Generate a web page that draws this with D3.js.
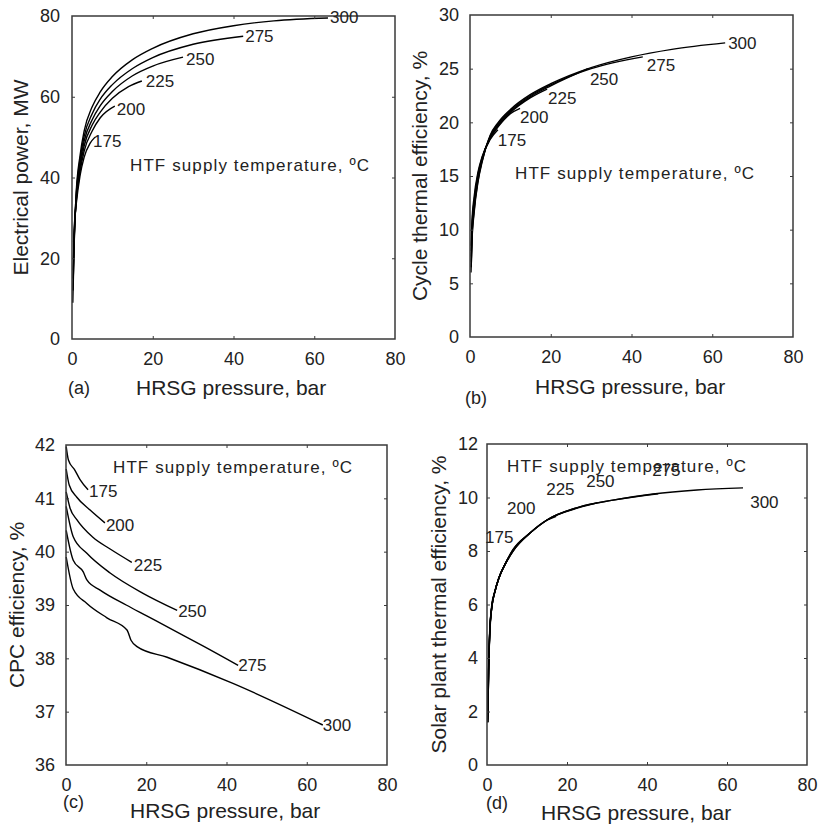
<!DOCTYPE html>
<html lang="en">
<head>
<meta charset="UTF-8">
<title>HRSG pressure</title>
<style>
body{margin:0;background:#fff;}
svg text{font-family:"Liberation Sans",Arial,sans-serif;fill:#222;}
</style>
</head>
<body>
<script src="https://cdn.jsdelivr.net/npm/d3@7"></script>
<script>
// HTF supply temperatures, degC
var temps = [175, 200, 225, 250, 275, 300];
var pressureTicks = [0, 20, 40, 60, 80];
var powerTicks = [0, 20, 40, 60, 80];
var cycleTicks = [0, 5, 10, 15, 20, 25, 30];
var cpcTicks = [36, 37, 38, 39, 40, 41, 42];
var solarTicks = [0, 2, 4, 6, 8, 10, 12];

// [HRSG pressure (bar), value] for each temperature
var electricalPower = [
  [[0.4,24],[0.7,30],[1,33],[2,40.5],[3,45],[4.5,48.5],[5.7,50]],
  [[0.35,20],[0.7,29],[1,33.5],[2,41.5],[3,46.5],[5,51.5],[7,54.8],[10.6,57.7]],
  [[0.3,17],[0.6,27],[1,34],[2,42.5],[3,47.8],[5,53],[7,56.2],[10,59.6],[14,62.5],[17.3,63.9]],
  [[0.3,15],[0.6,26],[1,34.5],[2,43.5],[3,49],[5,54.3],[7,57.8],[10,61.3],[15,65.2],[20,67.6],[27.5,69.8]],
  [[0.25,12],[0.5,24],[1,35],[2,44.5],[3,50.2],[5,55.8],[7,59.4],[10,63],[15,67],[20,69.7],[30,73],[42.4,75]],
  [[0.2,9],[0.5,22],[1,35.5],[2,45.5],[3,51.5],[5,57.5],[7,61.2],[10,65],[15,69.2],[20,72],[30,75.6],[40,77.6],[50,78.8],[63.4,79.5]]
];

var cycleEfficiency = [
  [[0.3,8.5],[0.5,10.8],[1,13],[2,15.4],[3,16.8],[5,18.4],[6.9,19.3]],
  [[0.3,8],[0.5,10.4],[1,12.6],[2,15.2],[3,16.7],[5,18.5],[7,19.6],[10,20.8],[12.4,21.3]],
  [[0.3,7.5],[0.5,10],[1,12.3],[2,15],[3,16.6],[5,18.6],[7,19.7],[10,20.9],[15,22.3],[19.1,23.1]],
  [[0.3,7],[0.5,9.5],[1,12],[2,14.8],[3,16.5],[5,18.7],[7,19.8],[10,21],[15,22.4],[20,23.4],[29.2,25]],
  [[0.3,6.5],[0.5,9.2],[1,11.7],[2,14.6],[3,16.4],[5,18.7],[7,19.9],[10,21.1],[15,22.5],[20,23.5],[30,25],[42.8,26.1]],
  [[0.25,6],[0.5,9],[1,11.5],[2,14.5],[3,16.3],[5,18.8],[7,20],[10,21.2],[15,22.6],[20,23.6],[30,25.1],[40,26.1],[50,26.8],[63.2,27.4]]
];

var cpcEfficiency = [
  [[0.05,41.97],[0.6,41.72],[2.2,41.53],[3.5,41.35],[5.5,41.16]],
  [[0.05,41.55],[0.8,41.25],[2.7,41.02],[6,40.78],[9.7,40.54]],
  [[0.05,41.12],[1,40.82],[2.7,40.6],[6.7,40.27],[11,40.05],[16.4,39.8]],
  [[0.05,40.85],[1.8,40.28],[5.2,39.97],[11,39.6],[19.2,39.22],[27.7,38.9]],
  [[0.05,40.4],[1.8,39.84],[4.3,39.62],[5.2,39.47],[8.5,39.28],[15,39.0],[20,38.8],[27,38.52],[34,38.24],[42.9,37.87]],
  [[0.05,39.9],[1.8,39.3],[5.2,39.03],[10.2,38.76],[15.2,38.53],[16.2,38.34],[17.7,38.22],[25.2,38.02],[41.6,37.53],[64,36.75]]
];

var solarEfficiency = [
  [[0.2,1.6],[0.4,3.5],[0.7,5.0],[1.2,5.9],[2,6.5],[3,7.0],[4.5,7.5],[5.7,7.8]],
  [[0.2,1.8],[0.4,3.6],[0.7,5.0],[1.2,5.9],[2,6.5],[3,7.0],[4.5,7.5],[6.5,8.0],[10.6,8.65]],
  [[0.2,1.7],[0.4,3.5],[0.7,5.1],[1.2,5.9],[2,6.5],[3,7.0],[4.5,7.5],[6.5,8.0],[10.75,8.67],[15,9.15],[17.3,9.3]],
  [[0.2,1.9],[0.4,3.7],[0.7,5.0],[1.2,6.0],[2,6.5],[3,7.0],[4.5,7.5],[6.5,8.0],[10.75,8.67],[15,9.16],[23,9.62],[27.5,9.8]],
  [[0.2,1.6],[0.4,3.5],[0.7,4.9],[1.2,5.9],[2,6.5],[3,7.0],[4.5,7.5],[6.5,8.05],[10.75,8.67],[15,9.16],[23,9.64],[31.5,9.9],[42.8,10.14]],
  [[0.2,1.6],[0.4,3.5],[0.7,5.0],[1.2,5.9],[2,6.5],[3,7.0],[4.5,7.5],[6.5,8.05],[10.75,8.67],[15,9.16],[23,9.64],[31.5,9.9],[41.5,10.13],[52.5,10.28],[64,10.36]]
];

var svg = d3.select("body").append("svg").attr("width", 819).attr("height", 828);

function panel(p) {
  var x = d3.scaleLinear().domain([0, 80]).range([p.left, p.right]);
  var y = d3.scaleLinear().domain([p.yTicks[0], p.yTicks[p.yTicks.length - 1]]).range([p.bottom, p.top]);
  var g = svg.append("g");

  var line = d3.line().x(function(d){ return x(d[0]); }).y(function(d){ return y(d[1]); }).curve(d3.curveMonotoneX);
  g.selectAll("path.curve").data(p.series).enter().append("path")
    .attr("class", "curve").attr("d", line)
    .attr("fill", "none").attr("stroke", "#000").attr("stroke-width", 1.4);

  // frame with small inward ticks on every side
  g.append("rect").attr("x", p.left).attr("y", p.top)
    .attr("width", p.right - p.left).attr("height", p.bottom - p.top)
    .attr("fill", "none").attr("stroke", "#3a3a3a").attr("stroke-width", 1.5);

  var inner = function(v){ return v > x.domain()[0] && v < x.domain()[1]; };
  var innerY = function(v){ return v > y.domain()[0] && v < y.domain()[1]; };
  var fmt = d3.format("d");

  var ax = g.append("g").attr("transform", "translate(0," + p.bottom + ")")
    .call(d3.axisBottom(x).tickValues(pressureTicks).tickFormat(fmt).tickSize(-3).tickPadding(13));
  var ay = g.append("g").attr("transform", "translate(" + p.left + ",0)")
    .call(d3.axisLeft(y).tickValues(p.yTicks).tickFormat(fmt).tickSize(-3).tickPadding(p.yPad));
  g.append("g").attr("transform", "translate(0," + p.top + ")")
    .call(d3.axisTop(x).tickValues(pressureTicks.filter(inner)).tickSize(-3).tickFormat(""));
  g.append("g").attr("transform", "translate(" + p.right + ",0)")
    .call(d3.axisRight(y).tickValues(p.yTicks.filter(innerY)).tickSize(-3).tickFormat(""));

  g.selectAll(".domain").remove();
  g.selectAll(".tick line").attr("stroke", "#3a3a3a");
  ax.selectAll(".tick").filter(function(d){ return !inner(d); }).select("line").remove();
  ay.selectAll(".tick").filter(function(d){ return !innerY(d); }).select("line").remove();
  g.selectAll(".tick text").attr("font-size", 18).attr("font-family", null).attr("fill", "#222");

  // curve labels
  g.selectAll("text.temp").data(p.series).enter().append("text")
    .attr("class", "temp")
    .attr("x", function(d, i){
      return p.labelAt ? x(p.labelAt[i][0]) : x(d[d.length - 1][0]) + p.labelOff[i][0];
    })
    .attr("y", function(d, i){
      return p.labelAt ? y(p.labelAt[i][1]) : y(d[d.length - 1][1]) + p.labelOff[i][1];
    })
    .attr("font-size", 17)
    .text(function(d, i){ return temps[i]; });

  g.append("text").attr("x", p.htf[0]).attr("y", p.htf[1])
    .attr("font-size", 17).attr("textLength", 239).attr("lengthAdjust", "spacing")
    .text("HTF supply temperature, ºC");

  g.append("text").attr("x", p.xTitle[0]).attr("y", p.xTitle[1])
    .attr("font-size", 21).text("HRSG pressure, bar");
  g.append("text").attr("x", p.tag[0]).attr("y", p.tag[1])
    .attr("font-size", 18).text(p.tagText);
  g.append("text")
    .attr("transform", "translate(" + p.yTitleX + "," + (p.top + p.bottom) / 2 + ") rotate(-90)")
    .attr("text-anchor", "middle").attr("font-size", 21).text(p.yTitle);
}

panel({
  left: 72, right: 395, top: 16, bottom: 339, yTicks: powerTicks, yPad: 12,
  series: electricalPower, yTitle: "Electrical power, MW", yTitleX: 28,
  labelOff: [[-2,10],[2,9],[4,6],[3,8],[2,6],[2,5]],
  htf: [130, 171], xTitle: [136, 395], tag: [68, 394], tagText: "(a)"
});

panel({
  left: 470, right: 793, top: 15, bottom: 337, yTicks: cycleTicks, yPad: 11,
  series: cycleEfficiency, yTitle: "Cycle thermal efficiency, %", yTitleX: 427,
  labelOff: [[0,16],[0,15],[1,15],[2,16],[4,14],[3,6]],
  htf: [515, 179], xTitle: [535, 394], tag: [465, 404], tagText: "(b)"
});

panel({
  left: 66, right: 387, top: 445, bottom: 765, yTicks: cpcTicks, yPad: 11,
  series: cpcEfficiency, yTitle: "CPC efficiency, %", yTitleX: 24,
  labelOff: [[1,7],[1,8],[2,9],[1,7],[0,6],[0,6]],
  htf: [113, 473], xTitle: [130, 818], tag: [63, 808], tagText: "(c)"
});

panel({
  left: 487, right: 807, top: 444, bottom: 765, yTicks: solarTicks, yPad: 9,
  series: solarEfficiency, yTitle: "Solar plant thermal efficiency, %", yTitleX: 446,
  labelAt: [[-0.5,8.3],[5,9.4],[14.8,10.1],[24.8,10.4],[41.3,10.8],[65.8,9.6]],
  htf: [507, 472], xTitle: [541, 820], tag: [486, 809], tagText: "(d)"
});
</script>
</body>
</html>
